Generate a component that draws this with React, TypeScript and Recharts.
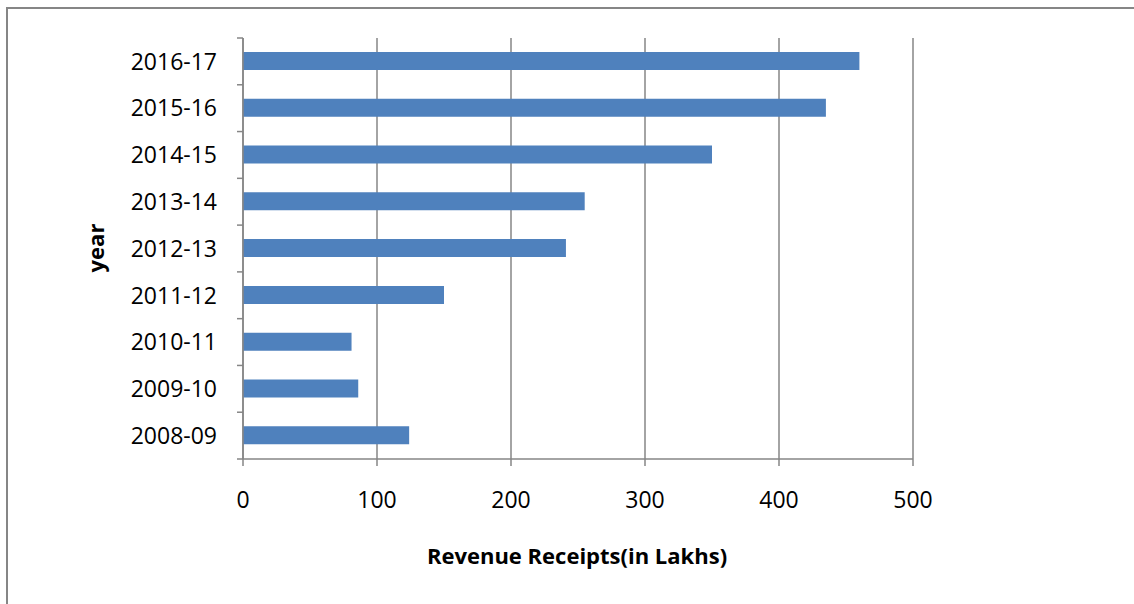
import { Bar, BarChart, CartesianGrid, XAxis, YAxis } from "recharts";

const years = [
  "2008-09",
  "2009-10",
  "2010-11",
  "2011-12",
  "2012-13",
  "2013-14",
  "2014-15",
  "2015-16",
  "2016-17",
];
const receipts = [124, 86, 81, 150, 241, 255, 350, 435, 460];
const xTicks = [0, 100, 200, 300, 400, 500];

const data = years.map((year, i) => ({ year, receipts: receipts[i] }));

const W = 1134;
const H = 604;
const M = { top: 38, right: 221, bottom: 85, left: 0 };
const X_AXIS_H = 60;
const Y_AXIS_W = 243;
const AXIS = "#868686";
const FONT = "'Open Sans', sans-serif";
// height of one category band, used to put the tick marks on band edges (Excel style)
const BAND = (H - M.top - M.bottom - X_AXIS_H) / years.length;

function YearTick(props: any) {
  const { x, y, payload, index } = props;
  const ax = x + 26;
  return (
    <g>
      <line x1={ax - 6} x2={ax} y1={y - BAND / 2} y2={y - BAND / 2} stroke={AXIS} strokeWidth={1.5} />
      {index === 0 ? (
        <line x1={ax - 6} x2={ax} y1={y + BAND / 2} y2={y + BAND / 2} stroke={AXIS} strokeWidth={1.5} />
      ) : null}
      <text x={x} y={y} dy="0.36em" textAnchor="end" fill="#000" fontFamily={FONT} fontSize={23}>
        {payload.value}
      </text>
    </g>
  );
}

export default function App() {
  return (
    <div style={{ position: "absolute", left: 0, top: 0, width: W, height: H, background: "#fff", overflow: "hidden" }}>
      <div
        style={{
          position: "absolute",
          left: 6,
          top: 7,
          width: W,
          height: H,
          borderLeft: `2px solid ${AXIS}`,
          borderTop: `2px solid ${AXIS}`,
        }}
      />
      <BarChart
        width={W}
        height={H}
        data={data}
        layout="vertical"
        margin={M}
        style={{ position: "absolute", left: 0, top: 0 }}
      >
        <CartesianGrid horizontal={false} stroke={AXIS} strokeWidth={1.5} />
        <XAxis
          type="number"
          domain={[0, 500]}
          ticks={xTicks}
          height={X_AXIS_H}
          stroke={AXIS}
          strokeWidth={1.5}
          tickSize={7}
          tickMargin={26}
          tick={{ fill: "#000", fontFamily: FONT, fontSize: 23 }}
        />
        <YAxis
          type="category"
          dataKey="year"
          reversed
          width={Y_AXIS_W}
          stroke={AXIS}
          strokeWidth={1.5}
          tickLine={false}
          tickSize={0}
          tickMargin={26}
          tick={<YearTick />}
          interval={0}
        />
        <Bar dataKey="receipts" fill="#4f81bd" barSize={18} isAnimationActive={false} />
      </BarChart>
      <div
        style={{
          position: "absolute",
          left: 95,
          top: 248,
          transform: "translate(-50%, -50%) rotate(-90deg)",
          fontFamily: FONT,
          fontWeight: 700,
          fontSize: 22,
          whiteSpace: "nowrap",
        }}
      >
        year
      </div>
      <div
        style={{
          position: "absolute",
          left: 577,
          top: 555,
          transform: "translate(-50%, -50%)",
          fontFamily: FONT,
          fontWeight: 700,
          fontSize: 22,
          whiteSpace: "nowrap",
        }}
      >
        Revenue Receipts(in Lakhs)
      </div>
    </div>
  );
}
